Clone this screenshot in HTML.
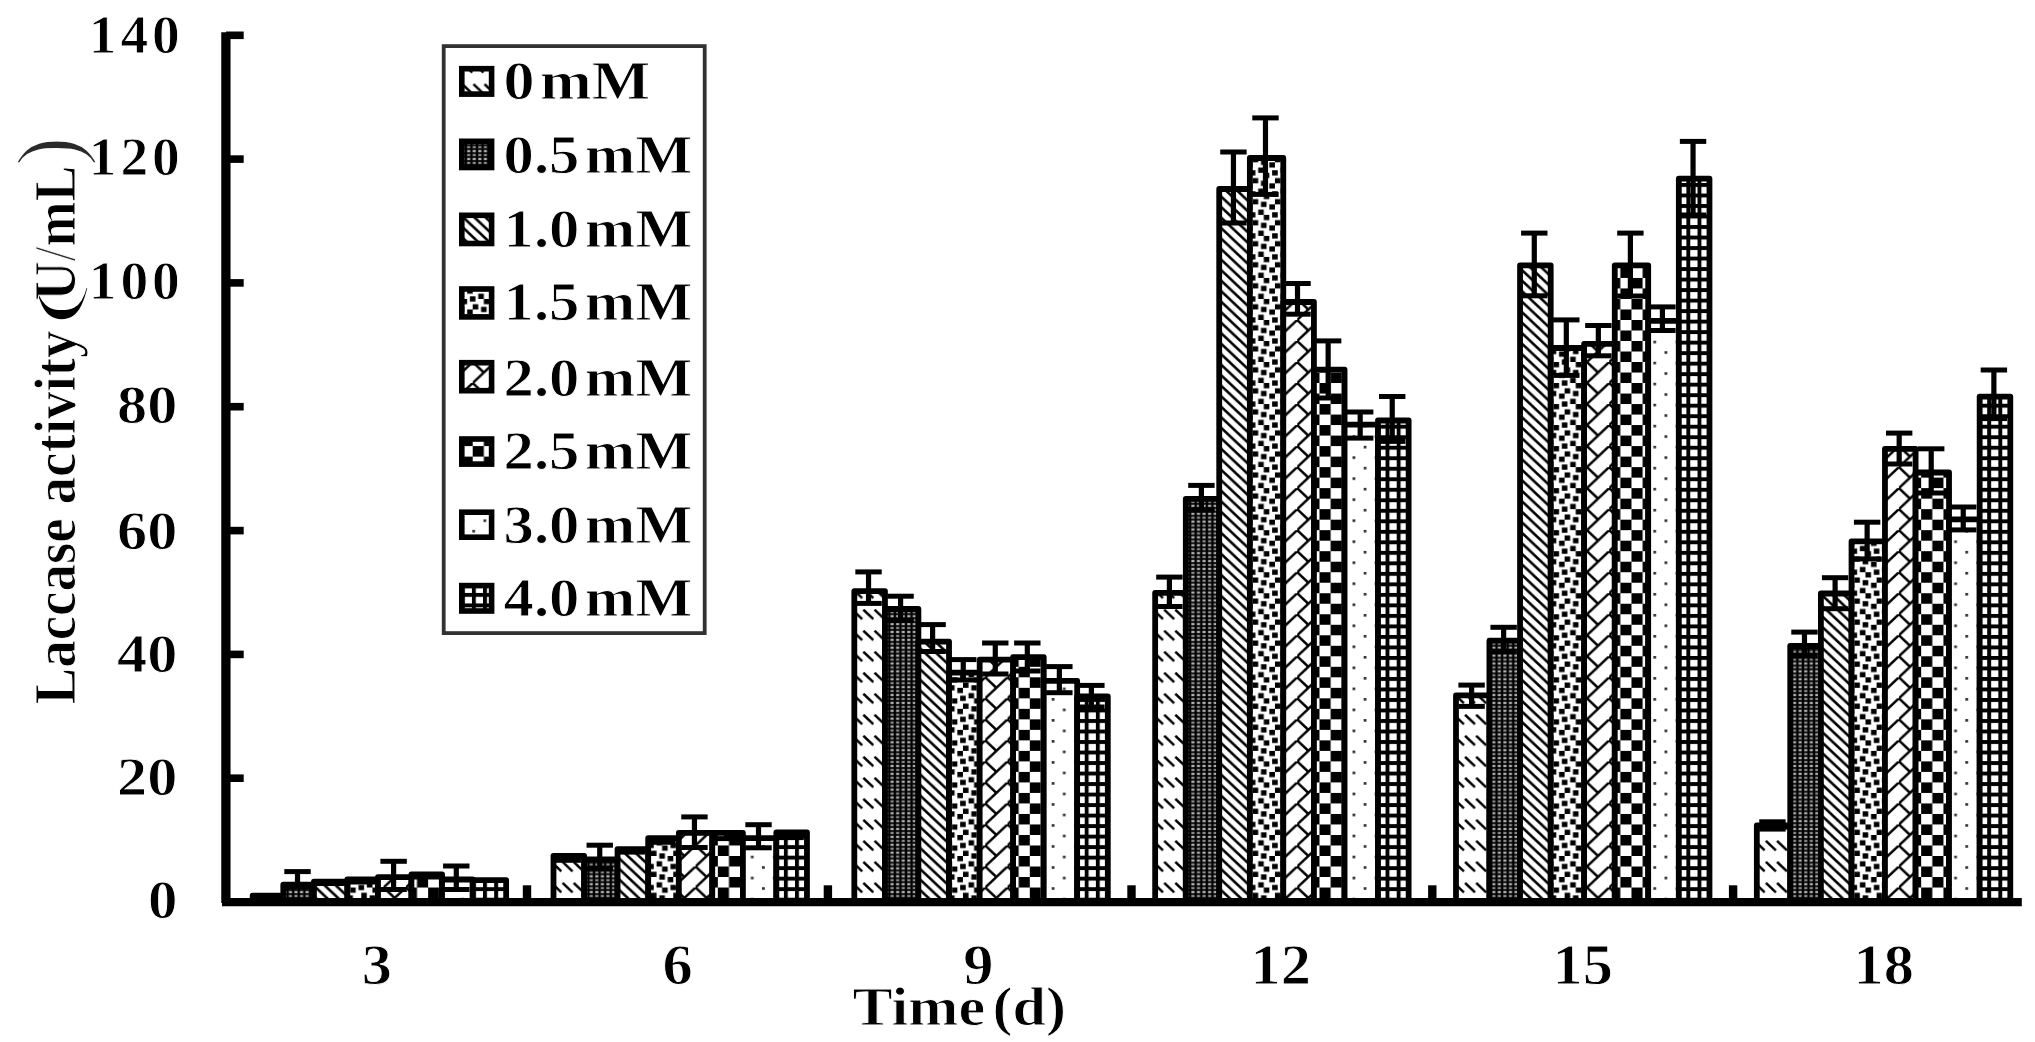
<!DOCTYPE html>
<html lang="en"><head><meta charset="utf-8"><title>Laccase activity</title>
<style>html,body{margin:0;padding:0;background:#fff;}body{width:2035px;height:1042px;overflow:hidden;}svg{display:block;}text{font-family:"Liberation Serif",serif;font-weight:bold;fill:#000;stroke:#fff;stroke-width:0.9px;}</style>
</head><body>
<svg width="2035" height="1042" viewBox="0 0 2035 1042">
<defs>
<filter id="bl" x="-2%" y="-2%" width="104%" height="104%"><feGaussianBlur stdDeviation="0.72"/></filter>
<pattern id="p1" patternUnits="userSpaceOnUse" width="22.2840" height="21.0200" patternTransform="translate(1319.50 882.26)"><rect width="22.2840" height="21.0200" fill="#fff"/><line x1="0.696" y1="0.657" x2="10.724" y2="10.116" stroke="#000" stroke-width="2.5" stroke-linecap="butt"/><line x1="11.838" y1="0.657" x2="21.866" y2="10.116" stroke="#000" stroke-width="2.5" stroke-linecap="butt"/></pattern>
<pattern id="p2" patternUnits="userSpaceOnUse" width="5.5710" height="7.8825" patternTransform="translate(1318.30 866.50)"><rect width="5.571" height="7.883" fill="#000"/><rect x="1.2" y="0.8" width="3.1" height="2.3" fill="#b4b4b4"/><rect x="1.2" y="4.74" width="3.1" height="2.3" fill="#8c8c8c"/></pattern>
<pattern id="p3" patternUnits="userSpaceOnUse" width="11.1420" height="10.5100" patternTransform="translate(1219.50 869.43)"><rect width="11.1420" height="10.5100" fill="#fff"/><polygon points="-11.142,0 -7.342,0 3.800,10.510 0.000,10.510" fill="#000"/><polygon points="0.000,0 3.800,0 14.942,10.510 11.142,10.510" fill="#000"/><polygon points="11.142,0 14.942,0 26.084,10.510 22.284,10.510" fill="#000"/></pattern>
<pattern id="p4" patternUnits="userSpaceOnUse" width="22.2840" height="21.0200" patternTransform="translate(1319.50 866.50)"><rect width="22.2840" height="21.0200" fill="#fff"/><path d="M0.000 0.000H2.785V2.627H0.000ZM11.142 0.000H16.713V5.255H11.142ZM19.498 0.000H22.284V2.627H19.498ZM0.000 5.255H5.571V10.510H0.000ZM8.357 7.883H13.927V13.137H8.357ZM16.713 10.510H22.284V15.765H16.713ZM5.571 15.765H11.142V21.020H5.571ZM0.000 18.392H2.785V21.020H0.000ZM19.498 18.392H22.284V21.020H19.498Z" fill="#000"/></pattern>
<pattern id="p5" patternUnits="userSpaceOnUse" width="22.2840" height="21.0200" patternTransform="translate(1319.50 866.50)"><rect width="22.2840" height="21.0200" fill="#fff"/><line x1="24.284" y1="-1.887" x2="-2.000" y2="22.907" stroke="#000" stroke-width="2.5"/><line x1="-1.000" y1="-0.943" x2="11.142" y2="10.510" stroke="#000" stroke-width="2.5"/></pattern>
<pattern id="p6" patternUnits="userSpaceOnUse" width="22.2840" height="21.0200" patternTransform="translate(1319.50 866.50)"><rect width="22.2840" height="21.0200" fill="#fff"/><path d="M0.000 0.000H11.142V10.510H0.000ZM11.142 10.510H22.284V21.020H11.142Z" fill="#000"/></pattern>
<pattern id="p7" patternUnits="userSpaceOnUse" width="22.2840" height="21.0200" patternTransform="translate(1319.10 866.20)"><rect width="22.2840" height="21.0200" fill="#fff"/><rect x="0" y="0" width="2.785" height="2.627" fill="#333"/><rect x="11.142" y="10.510" width="2.785" height="2.627" fill="#333"/></pattern>
<pattern id="p8" patternUnits="userSpaceOnUse" width="11.1420" height="10.5100" patternTransform="translate(1385.55 719.05)"><rect width="11.1420" height="10.5100" fill="#fff"/><rect x="0" y="0" width="11.142" height="3.900" fill="#000"/><rect x="0" y="0" width="3.900" height="10.510" fill="#000"/></pattern>
</defs>
<rect width="2035" height="1042" fill="#fff"/>
<g filter="url(#bl)">
<g stroke="#000" stroke-width="5.80" stroke-linejoin="round">
<rect x="252.65" y="895.70" width="30.64" height="6.30" fill="url(#p1)"/>
<rect x="283.29" y="884.60" width="30.64" height="17.40" fill="url(#p2)"/>
<rect x="313.93" y="881.70" width="33.43" height="20.30" fill="url(#p3)"/>
<rect x="347.36" y="879.50" width="30.64" height="22.50" fill="url(#p4)"/>
<rect x="378.00" y="877.20" width="33.43" height="24.80" fill="url(#p5)"/>
<rect x="411.43" y="874.30" width="30.64" height="27.70" fill="url(#p6)"/>
<rect x="442.07" y="879.50" width="30.64" height="22.50" fill="url(#p7)"/>
<rect x="472.71" y="880.20" width="33.43" height="21.80" fill="url(#p8)"/>
<rect x="553.49" y="855.80" width="30.64" height="46.20" fill="url(#p1)"/>
<rect x="584.13" y="859.50" width="33.43" height="42.50" fill="url(#p2)"/>
<rect x="617.55" y="849.10" width="30.64" height="52.90" fill="url(#p3)"/>
<rect x="648.19" y="838.10" width="30.64" height="63.90" fill="url(#p4)"/>
<rect x="678.84" y="832.90" width="33.43" height="69.10" fill="url(#p5)"/>
<rect x="712.26" y="832.90" width="30.64" height="69.10" fill="url(#p6)"/>
<rect x="742.90" y="838.10" width="33.43" height="63.90" fill="url(#p7)"/>
<rect x="776.33" y="832.50" width="30.64" height="69.50" fill="url(#p8)"/>
<rect x="854.32" y="591.10" width="30.64" height="310.90" fill="url(#p1)"/>
<rect x="884.96" y="609.00" width="33.43" height="293.00" fill="url(#p2)"/>
<rect x="918.39" y="641.60" width="30.64" height="260.40" fill="url(#p3)"/>
<rect x="949.03" y="672.70" width="30.64" height="229.30" fill="url(#p4)"/>
<rect x="979.67" y="659.60" width="33.43" height="242.40" fill="url(#p5)"/>
<rect x="1013.10" y="657.20" width="30.64" height="244.80" fill="url(#p6)"/>
<rect x="1043.74" y="680.80" width="33.43" height="221.20" fill="url(#p7)"/>
<rect x="1077.16" y="696.30" width="30.64" height="205.70" fill="url(#p8)"/>
<rect x="1155.16" y="592.90" width="30.64" height="309.10" fill="url(#p1)"/>
<rect x="1185.80" y="498.80" width="33.43" height="403.20" fill="url(#p2)"/>
<rect x="1219.22" y="189.00" width="30.64" height="713.00" fill="url(#p3)"/>
<rect x="1249.86" y="158.00" width="33.43" height="744.00" fill="url(#p4)"/>
<rect x="1283.29" y="302.00" width="30.64" height="600.00" fill="url(#p5)"/>
<rect x="1313.93" y="369.60" width="30.64" height="532.40" fill="url(#p6)"/>
<rect x="1344.57" y="424.60" width="33.43" height="477.40" fill="url(#p7)"/>
<rect x="1378.00" y="420.50" width="30.64" height="481.50" fill="url(#p8)"/>
<rect x="1455.99" y="695.30" width="33.43" height="206.70" fill="url(#p1)"/>
<rect x="1489.42" y="640.70" width="30.64" height="261.30" fill="url(#p2)"/>
<rect x="1520.06" y="265.30" width="30.64" height="636.70" fill="url(#p3)"/>
<rect x="1550.70" y="348.00" width="33.43" height="554.00" fill="url(#p4)"/>
<rect x="1584.12" y="343.90" width="30.64" height="558.10" fill="url(#p5)"/>
<rect x="1614.76" y="265.30" width="33.43" height="636.70" fill="url(#p6)"/>
<rect x="1648.19" y="320.80" width="30.64" height="581.20" fill="url(#p7)"/>
<rect x="1678.83" y="178.60" width="30.64" height="723.40" fill="url(#p8)"/>
<rect x="1756.82" y="825.50" width="33.43" height="76.50" fill="url(#p1)"/>
<rect x="1790.25" y="646.00" width="30.64" height="256.00" fill="url(#p2)"/>
<rect x="1820.89" y="593.50" width="30.64" height="308.50" fill="url(#p3)"/>
<rect x="1851.53" y="541.30" width="33.43" height="360.70" fill="url(#p4)"/>
<rect x="1884.96" y="448.80" width="30.64" height="453.20" fill="url(#p5)"/>
<rect x="1915.60" y="472.50" width="33.43" height="429.50" fill="url(#p6)"/>
<rect x="1949.02" y="519.30" width="30.64" height="382.70" fill="url(#p7)"/>
<rect x="1979.66" y="396.60" width="30.64" height="505.40" fill="url(#p8)"/>
</g>
<g stroke="#000" fill="none">
<line x1="297.51" y1="871.60" x2="297.51" y2="884.60" stroke-width="5.2"/>
<line x1="284.31" y1="871.60" x2="310.71" y2="871.60" stroke-width="5"/>
<line x1="393.61" y1="861.30" x2="393.61" y2="889.50" stroke-width="5.2"/>
<line x1="380.41" y1="861.30" x2="406.81" y2="861.30" stroke-width="5"/>
<line x1="380.41" y1="889.50" x2="406.81" y2="889.50" stroke-width="5"/>
<line x1="456.29" y1="866.00" x2="456.29" y2="889.50" stroke-width="5.2"/>
<line x1="443.09" y1="866.00" x2="469.49" y2="866.00" stroke-width="5"/>
<line x1="443.09" y1="889.50" x2="469.49" y2="889.50" stroke-width="5"/>
<line x1="567.71" y1="855.80" x2="567.71" y2="860.30" stroke-width="5.2"/>
<line x1="554.51" y1="860.30" x2="580.91" y2="860.30" stroke-width="5"/>
<line x1="599.74" y1="845.20" x2="599.74" y2="868.70" stroke-width="5.2"/>
<line x1="586.54" y1="845.20" x2="612.94" y2="845.20" stroke-width="5"/>
<line x1="586.54" y1="868.70" x2="612.94" y2="868.70" stroke-width="5"/>
<line x1="631.77" y1="849.10" x2="631.77" y2="852.10" stroke-width="5.2"/>
<line x1="618.57" y1="852.10" x2="644.97" y2="852.10" stroke-width="5"/>
<line x1="662.41" y1="838.10" x2="662.41" y2="842.30" stroke-width="5.2"/>
<line x1="649.21" y1="842.30" x2="675.61" y2="842.30" stroke-width="5"/>
<line x1="694.45" y1="816.90" x2="694.45" y2="847.50" stroke-width="5.2"/>
<line x1="681.25" y1="816.90" x2="707.65" y2="816.90" stroke-width="5"/>
<line x1="681.25" y1="847.50" x2="707.65" y2="847.50" stroke-width="5"/>
<line x1="726.48" y1="832.90" x2="726.48" y2="838.60" stroke-width="5.2"/>
<line x1="713.28" y1="838.60" x2="739.68" y2="838.60" stroke-width="5"/>
<line x1="758.51" y1="824.70" x2="758.51" y2="847.80" stroke-width="5.2"/>
<line x1="745.31" y1="824.70" x2="771.71" y2="824.70" stroke-width="5"/>
<line x1="745.31" y1="847.80" x2="771.71" y2="847.80" stroke-width="5"/>
<line x1="790.55" y1="832.50" x2="790.55" y2="837.60" stroke-width="5.2"/>
<line x1="777.35" y1="837.60" x2="803.75" y2="837.60" stroke-width="5"/>
<line x1="868.54" y1="571.90" x2="868.54" y2="603.40" stroke-width="5.2"/>
<line x1="855.34" y1="571.90" x2="881.74" y2="571.90" stroke-width="5"/>
<line x1="855.34" y1="603.40" x2="881.74" y2="603.40" stroke-width="5"/>
<line x1="900.57" y1="596.20" x2="900.57" y2="620.50" stroke-width="5.2"/>
<line x1="887.37" y1="596.20" x2="913.77" y2="596.20" stroke-width="5"/>
<line x1="887.37" y1="620.50" x2="913.77" y2="620.50" stroke-width="5"/>
<line x1="932.61" y1="624.60" x2="932.61" y2="651.50" stroke-width="5.2"/>
<line x1="919.41" y1="624.60" x2="945.81" y2="624.60" stroke-width="5"/>
<line x1="919.41" y1="651.50" x2="945.81" y2="651.50" stroke-width="5"/>
<line x1="963.25" y1="659.60" x2="963.25" y2="680.00" stroke-width="5.2"/>
<line x1="950.05" y1="659.60" x2="976.45" y2="659.60" stroke-width="5"/>
<line x1="950.05" y1="680.00" x2="976.45" y2="680.00" stroke-width="5"/>
<line x1="995.28" y1="643.00" x2="995.28" y2="674.00" stroke-width="5.2"/>
<line x1="982.08" y1="643.00" x2="1008.48" y2="643.00" stroke-width="5"/>
<line x1="982.08" y1="674.00" x2="1008.48" y2="674.00" stroke-width="5"/>
<line x1="1027.32" y1="643.00" x2="1027.32" y2="671.00" stroke-width="5.2"/>
<line x1="1014.12" y1="643.00" x2="1040.52" y2="643.00" stroke-width="5"/>
<line x1="1014.12" y1="671.00" x2="1040.52" y2="671.00" stroke-width="5"/>
<line x1="1059.35" y1="666.60" x2="1059.35" y2="692.70" stroke-width="5.2"/>
<line x1="1046.15" y1="666.60" x2="1072.55" y2="666.60" stroke-width="5"/>
<line x1="1046.15" y1="692.70" x2="1072.55" y2="692.70" stroke-width="5"/>
<line x1="1091.38" y1="685.40" x2="1091.38" y2="707.00" stroke-width="5.2"/>
<line x1="1078.18" y1="685.40" x2="1104.58" y2="685.40" stroke-width="5"/>
<line x1="1078.18" y1="707.00" x2="1104.58" y2="707.00" stroke-width="5"/>
<line x1="1169.38" y1="577.10" x2="1169.38" y2="606.50" stroke-width="5.2"/>
<line x1="1156.18" y1="577.10" x2="1182.58" y2="577.10" stroke-width="5"/>
<line x1="1156.18" y1="606.50" x2="1182.58" y2="606.50" stroke-width="5"/>
<line x1="1201.41" y1="485.40" x2="1201.41" y2="510.00" stroke-width="5.2"/>
<line x1="1188.21" y1="485.40" x2="1214.61" y2="485.40" stroke-width="5"/>
<line x1="1188.21" y1="510.00" x2="1214.61" y2="510.00" stroke-width="5"/>
<line x1="1233.44" y1="152.00" x2="1233.44" y2="223.00" stroke-width="5.2"/>
<line x1="1220.24" y1="152.00" x2="1246.64" y2="152.00" stroke-width="5"/>
<line x1="1220.24" y1="223.00" x2="1246.64" y2="223.00" stroke-width="5"/>
<line x1="1265.48" y1="117.90" x2="1265.48" y2="194.40" stroke-width="5.2"/>
<line x1="1252.28" y1="117.90" x2="1278.68" y2="117.90" stroke-width="5"/>
<line x1="1252.28" y1="194.40" x2="1278.68" y2="194.40" stroke-width="5"/>
<line x1="1297.51" y1="283.50" x2="1297.51" y2="314.20" stroke-width="5.2"/>
<line x1="1284.31" y1="283.50" x2="1310.71" y2="283.50" stroke-width="5"/>
<line x1="1284.31" y1="314.20" x2="1310.71" y2="314.20" stroke-width="5"/>
<line x1="1328.15" y1="340.90" x2="1328.15" y2="398.00" stroke-width="5.2"/>
<line x1="1314.95" y1="340.90" x2="1341.35" y2="340.90" stroke-width="5"/>
<line x1="1314.95" y1="398.00" x2="1341.35" y2="398.00" stroke-width="5"/>
<line x1="1360.18" y1="412.00" x2="1360.18" y2="438.10" stroke-width="5.2"/>
<line x1="1346.98" y1="412.00" x2="1373.38" y2="412.00" stroke-width="5"/>
<line x1="1346.98" y1="438.10" x2="1373.38" y2="438.10" stroke-width="5"/>
<line x1="1392.22" y1="396.50" x2="1392.22" y2="441.40" stroke-width="5.2"/>
<line x1="1379.02" y1="396.50" x2="1405.42" y2="396.50" stroke-width="5"/>
<line x1="1379.02" y1="441.40" x2="1405.42" y2="441.40" stroke-width="5"/>
<line x1="1471.60" y1="685.10" x2="1471.60" y2="706.40" stroke-width="5.2"/>
<line x1="1458.40" y1="685.10" x2="1484.80" y2="685.10" stroke-width="5"/>
<line x1="1458.40" y1="706.40" x2="1484.80" y2="706.40" stroke-width="5"/>
<line x1="1503.64" y1="627.30" x2="1503.64" y2="651.30" stroke-width="5.2"/>
<line x1="1490.44" y1="627.30" x2="1516.84" y2="627.30" stroke-width="5"/>
<line x1="1490.44" y1="651.30" x2="1516.84" y2="651.30" stroke-width="5"/>
<line x1="1534.28" y1="233.10" x2="1534.28" y2="295.80" stroke-width="5.2"/>
<line x1="1521.08" y1="233.10" x2="1547.48" y2="233.10" stroke-width="5"/>
<line x1="1521.08" y1="295.80" x2="1547.48" y2="295.80" stroke-width="5"/>
<line x1="1566.31" y1="319.90" x2="1566.31" y2="375.40" stroke-width="5.2"/>
<line x1="1553.11" y1="319.90" x2="1579.51" y2="319.90" stroke-width="5"/>
<line x1="1553.11" y1="375.40" x2="1579.51" y2="375.40" stroke-width="5"/>
<line x1="1598.34" y1="325.50" x2="1598.34" y2="355.80" stroke-width="5.2"/>
<line x1="1585.14" y1="325.50" x2="1611.54" y2="325.50" stroke-width="5"/>
<line x1="1585.14" y1="355.80" x2="1611.54" y2="355.80" stroke-width="5"/>
<line x1="1630.38" y1="233.10" x2="1630.38" y2="296.00" stroke-width="5.2"/>
<line x1="1617.18" y1="233.10" x2="1643.58" y2="233.10" stroke-width="5"/>
<line x1="1617.18" y1="296.00" x2="1643.58" y2="296.00" stroke-width="5"/>
<line x1="1662.41" y1="306.90" x2="1662.41" y2="330.50" stroke-width="5.2"/>
<line x1="1649.21" y1="306.90" x2="1675.61" y2="306.90" stroke-width="5"/>
<line x1="1649.21" y1="330.50" x2="1675.61" y2="330.50" stroke-width="5"/>
<line x1="1693.05" y1="141.40" x2="1693.05" y2="215.00" stroke-width="5.2"/>
<line x1="1679.85" y1="141.40" x2="1706.25" y2="141.40" stroke-width="5"/>
<line x1="1679.85" y1="215.00" x2="1706.25" y2="215.00" stroke-width="5"/>
<line x1="1772.44" y1="821.80" x2="1772.44" y2="829.10" stroke-width="5.2"/>
<line x1="1759.24" y1="821.80" x2="1785.64" y2="821.80" stroke-width="5"/>
<line x1="1759.24" y1="829.10" x2="1785.64" y2="829.10" stroke-width="5"/>
<line x1="1804.47" y1="632.10" x2="1804.47" y2="655.80" stroke-width="5.2"/>
<line x1="1791.27" y1="632.10" x2="1817.67" y2="632.10" stroke-width="5"/>
<line x1="1791.27" y1="655.80" x2="1817.67" y2="655.80" stroke-width="5"/>
<line x1="1835.11" y1="577.70" x2="1835.11" y2="608.70" stroke-width="5.2"/>
<line x1="1821.91" y1="577.70" x2="1848.31" y2="577.70" stroke-width="5"/>
<line x1="1821.91" y1="608.70" x2="1848.31" y2="608.70" stroke-width="5"/>
<line x1="1867.14" y1="522.20" x2="1867.14" y2="558.90" stroke-width="5.2"/>
<line x1="1853.94" y1="522.20" x2="1880.34" y2="522.20" stroke-width="5"/>
<line x1="1853.94" y1="558.90" x2="1880.34" y2="558.90" stroke-width="5"/>
<line x1="1899.18" y1="433.10" x2="1899.18" y2="464.00" stroke-width="5.2"/>
<line x1="1885.98" y1="433.10" x2="1912.38" y2="433.10" stroke-width="5"/>
<line x1="1885.98" y1="464.00" x2="1912.38" y2="464.00" stroke-width="5"/>
<line x1="1931.21" y1="448.80" x2="1931.21" y2="493.00" stroke-width="5.2"/>
<line x1="1918.01" y1="448.80" x2="1944.41" y2="448.80" stroke-width="5"/>
<line x1="1918.01" y1="493.00" x2="1944.41" y2="493.00" stroke-width="5"/>
<line x1="1963.24" y1="507.00" x2="1963.24" y2="529.90" stroke-width="5.2"/>
<line x1="1950.04" y1="507.00" x2="1976.44" y2="507.00" stroke-width="5"/>
<line x1="1950.04" y1="529.90" x2="1976.44" y2="529.90" stroke-width="5"/>
<line x1="1993.88" y1="370.00" x2="1993.88" y2="418.60" stroke-width="5.2"/>
<line x1="1980.68" y1="370.00" x2="2007.08" y2="370.00" stroke-width="5"/>
<line x1="1980.68" y1="418.60" x2="2007.08" y2="418.60" stroke-width="5"/>
</g>
<rect x="284.29" y="882.00" width="28.64" height="7.50" fill="#000"/>
<rect x="314.93" y="879.00" width="31.43" height="7.00" fill="#000"/>
<rect x="348.36" y="877.00" width="28.64" height="7.50" fill="#000"/>
<rect x="412.43" y="872.00" width="28.64" height="7.50" fill="#000"/>
<g stroke="#000" fill="none" stroke-linecap="butt">
<path d="M225.9 32.2 V903" stroke-width="9.3"/>
<path d="M222 902.1 H2021.8" stroke-width="8.4"/>
<line x1="226" y1="35.3" x2="243.7" y2="35.3" stroke-width="7.6"/>
<line x1="226" y1="159.1" x2="243.7" y2="159.1" stroke-width="7.6"/>
<line x1="226" y1="282.9" x2="243.7" y2="282.9" stroke-width="7.6"/>
<line x1="226" y1="406.7" x2="243.7" y2="406.7" stroke-width="7.6"/>
<line x1="226" y1="530.6" x2="243.7" y2="530.6" stroke-width="7.6"/>
<line x1="226" y1="654.4" x2="243.7" y2="654.4" stroke-width="7.6"/>
<line x1="226" y1="778.2" x2="243.7" y2="778.2" stroke-width="7.6"/>
<line x1="527.0" y1="902" x2="527.0" y2="885.3" stroke-width="8.4"/>
<line x1="827.9" y1="902" x2="827.9" y2="885.3" stroke-width="8.4"/>
<line x1="1131.5" y1="902" x2="1131.5" y2="885.3" stroke-width="8.4"/>
<line x1="1432.3" y1="902" x2="1432.3" y2="885.3" stroke-width="8.4"/>
<line x1="1733.1" y1="902" x2="1733.1" y2="885.3" stroke-width="8.4"/>
</g>
<rect x="443.7" y="46.1" width="261" height="587" fill="#fff" stroke="#333" stroke-width="3.8"/>
<g stroke="#000" stroke-width="5.6">
<rect x="461.8" y="68.7" width="29.8" height="25.4" fill="url(#p1)"/>
<rect x="461.8" y="141.3" width="29.8" height="26.2" fill="url(#p2)"/>
<rect x="461.8" y="215.3" width="29.8" height="28.2" fill="url(#p3)"/>
<rect x="461.8" y="289.0" width="29.8" height="27.9" fill="url(#p4)"/>
<rect x="461.8" y="362.7" width="29.8" height="28.0" fill="url(#p5)"/>
<rect x="461.8" y="439.0" width="29.8" height="25.1" fill="url(#p6)"/>
<rect x="461.8" y="512.2" width="29.8" height="25.0" fill="url(#p7)"/>
<rect x="461.8" y="585.6" width="29.8" height="25.4" fill="url(#p8)"/>
</g>
<text x="503.6" y="98.9" font-size="55.5" text-anchor="start" textLength="146.8" lengthAdjust="spacingAndGlyphs" style="word-spacing:-9px" xml:space="preserve">0 mM</text>
<text x="503.6" y="173.2" font-size="55.5" text-anchor="start" textLength="188.8" lengthAdjust="spacingAndGlyphs" style="word-spacing:-9px" xml:space="preserve">0.5 mM</text>
<text x="503.6" y="246.7" font-size="55.5" text-anchor="start" textLength="188.8" lengthAdjust="spacingAndGlyphs" style="word-spacing:-9px" xml:space="preserve">1.0 mM</text>
<text x="503.6" y="320.1" font-size="55.5" text-anchor="start" textLength="188.8" lengthAdjust="spacingAndGlyphs" style="word-spacing:-9px" xml:space="preserve">1.5 mM</text>
<text x="503.6" y="395.9" font-size="55.5" text-anchor="start" textLength="188.8" lengthAdjust="spacingAndGlyphs" style="word-spacing:-9px" xml:space="preserve">2.0 mM</text>
<text x="503.6" y="469.3" font-size="55.5" text-anchor="start" textLength="188.8" lengthAdjust="spacingAndGlyphs" style="word-spacing:-9px" xml:space="preserve">2.5 mM</text>
<text x="503.6" y="543.2" font-size="55.5" text-anchor="start" textLength="188.8" lengthAdjust="spacingAndGlyphs" style="word-spacing:-9px" xml:space="preserve">3.0 mM</text>
<text x="503.6" y="616.3" font-size="55.5" text-anchor="start" textLength="188.8" lengthAdjust="spacingAndGlyphs" style="word-spacing:-9px" xml:space="preserve">4.0 mM</text>
<g transform="translate(75.5 327) rotate(-90)"><text x="0" y="0" font-size="59" style="font-weight:normal;stroke:#fff;stroke-width:1.6px" transform="scale(2.3 1)">(</text></g>
<g transform="translate(78 166) rotate(-90)"><text x="0" y="0" font-size="88" style="font-weight:normal;fill:#2a2a2a;stroke:#fff;stroke-width:1.8px">)</text></g>
<text x="179.8" y="52.6" font-size="55.5" text-anchor="end" textLength="91.0" lengthAdjust="spacing" xml:space="preserve">140</text>
<text x="179.8" y="175.4" font-size="55.5" text-anchor="end" textLength="91.0" lengthAdjust="spacing" xml:space="preserve">120</text>
<text x="179.8" y="299.2" font-size="55.5" text-anchor="end" textLength="91.0" lengthAdjust="spacing" xml:space="preserve">100</text>
<text x="177.3" y="422.9" font-size="55.5" text-anchor="end" textLength="60.2" lengthAdjust="spacingAndGlyphs" xml:space="preserve">80</text>
<text x="177.3" y="548.9" font-size="55.5" text-anchor="end" textLength="60.2" lengthAdjust="spacingAndGlyphs" xml:space="preserve">60</text>
<text x="177.3" y="672.0" font-size="55.5" text-anchor="end" textLength="60.2" lengthAdjust="spacingAndGlyphs" xml:space="preserve">40</text>
<text x="177.3" y="795.2" font-size="55.5" text-anchor="end" textLength="60.2" lengthAdjust="spacingAndGlyphs" xml:space="preserve">20</text>
<text x="177.4" y="918.3" font-size="55.5" text-anchor="end" textLength="29.4" lengthAdjust="spacingAndGlyphs" xml:space="preserve">0</text>
<text x="376.8" y="984.4" font-size="56.5" text-anchor="middle" textLength="30.2" lengthAdjust="spacingAndGlyphs" xml:space="preserve">3</text>
<text x="677.5" y="984.4" font-size="56.5" text-anchor="middle" textLength="30.2" lengthAdjust="spacingAndGlyphs" xml:space="preserve">6</text>
<text x="978.3" y="984.4" font-size="56.5" text-anchor="middle" textLength="30.2" lengthAdjust="spacingAndGlyphs" xml:space="preserve">9</text>
<text x="1280.8" y="984.4" font-size="56.5" text-anchor="middle" textLength="60.4" lengthAdjust="spacingAndGlyphs" xml:space="preserve">12</text>
<text x="1582.7" y="984.4" font-size="56.5" text-anchor="middle" textLength="60.4" lengthAdjust="spacingAndGlyphs" xml:space="preserve">15</text>
<text x="1883.7" y="984.4" font-size="56.5" text-anchor="middle" textLength="60.4" lengthAdjust="spacingAndGlyphs" xml:space="preserve">18</text>
<text x="852.5" y="1025.0" font-size="55.0" text-anchor="start" textLength="213.5" lengthAdjust="spacingAndGlyphs" style="word-spacing:-7px" xml:space="preserve">Time (d)</text>
<g transform="translate(74.7 704.5) scale(1.07 1) rotate(-90)">
<text x="0" y="0" font-size="55" xml:space="preserve">Laccase activity </text>
</g>
<g transform="translate(74.7 300.5) scale(1.07 1) rotate(-90)">
<text x="0" y="0" font-size="55" textLength="135" lengthAdjust="spacingAndGlyphs">U<tspan style="font-weight:normal;fill:#333">/</tspan>mL</text>
</g>
</g>
</svg>
</body></html>
